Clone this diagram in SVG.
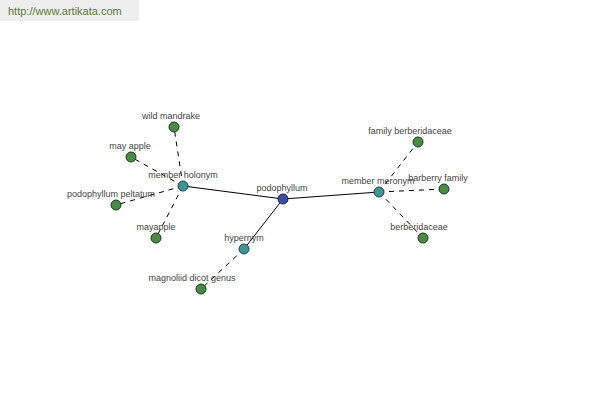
<svg xmlns="http://www.w3.org/2000/svg" width="600" height="400" viewBox="0 0 600 400">
<style>
text{font-family:"Liberation Sans",Arial,sans-serif;font-size:9px;fill:#444;text-anchor:middle}
.e{stroke:#000;stroke-width:1;fill:none}
.d{stroke:#000;stroke-width:1;fill:none;stroke-dasharray:5,5}
.g{fill:#4a8a46;stroke:#1e3a1c;stroke-width:1}
.t{fill:#3f9494;stroke:#1c4444;stroke-width:1}
.b{fill:#3f4aa0;stroke:#1c2050;stroke-width:1}
</style>
<rect width="600" height="400" fill="#fff"/>
<rect x="0" y="0" width="139" height="21" fill="#eeeeee"/>
<text x="8" y="15" style="text-anchor:start;font-size:11px;fill:#5a7a3a">http://www.artikata.com</text>
<g id="connectors">
<line class="e" x1="283" y1="199" x2="183" y2="186"/>
<line class="e" x1="283" y1="199" x2="379" y2="192"/>
<line class="e" x1="283" y1="199" x2="244" y2="249"/>
<line class="d" x1="183" y1="186" x2="174" y2="127"/>
<line class="d" x1="183" y1="186" x2="131" y2="157"/>
<line class="d" x1="183" y1="186" x2="116" y2="205"/>
<line class="d" x1="183" y1="186" x2="156" y2="238"/>
<line class="d" x1="244" y1="249" x2="201" y2="289"/>
<line class="d" x1="379" y1="192" x2="418" y2="142"/>
<line class="d" x1="379" y1="192" x2="444" y2="189"/>
<line class="d" x1="379" y1="192" x2="423" y2="238"/>
</g>
<g id="n-podophyllum"><circle class="b" cx="283" cy="199" r="5"/><text x="282" y="191">podophyllum</text></g>
<g id="n-member-holonym"><circle class="t" cx="183" cy="186" r="5"/><text x="183" y="178">member holonym</text></g>
<g id="n-member-meronym"><circle class="t" cx="379" cy="192" r="5"/><text x="378" y="184">member meronym</text></g>
<g id="n-hypernym"><circle class="t" cx="244" cy="249" r="5"/><text x="244" y="241">hypernym</text></g>
<g id="n-wild-mandrake"><circle class="g" cx="174" cy="127" r="5"/><text x="171" y="119">wild mandrake</text></g>
<g id="n-may-apple"><circle class="g" cx="131" cy="157" r="5"/><text x="130" y="149">may apple</text></g>
<g id="n-podophyllum-peltatum"><circle class="g" cx="116" cy="205" r="5"/><text x="111" y="197">podophyllum peltatum</text></g>
<g id="n-mayapple"><circle class="g" cx="156" cy="238" r="5"/><text x="156" y="230">mayapple</text></g>
<g id="n-magnoliid-dicot-genus"><circle class="g" cx="201" cy="289" r="5"/><text x="192" y="281">magnoliid dicot genus</text></g>
<g id="n-family-berberidaceae"><circle class="g" cx="418" cy="142" r="5"/><text x="410" y="134">family berberidaceae</text></g>
<g id="n-barberry-family"><circle class="g" cx="444" cy="189" r="5"/><text x="438" y="181">barberry family</text></g>
<g id="n-berberidaceae"><circle class="g" cx="423" cy="238" r="5"/><text x="419" y="230">berberidaceae</text></g>
</svg>
